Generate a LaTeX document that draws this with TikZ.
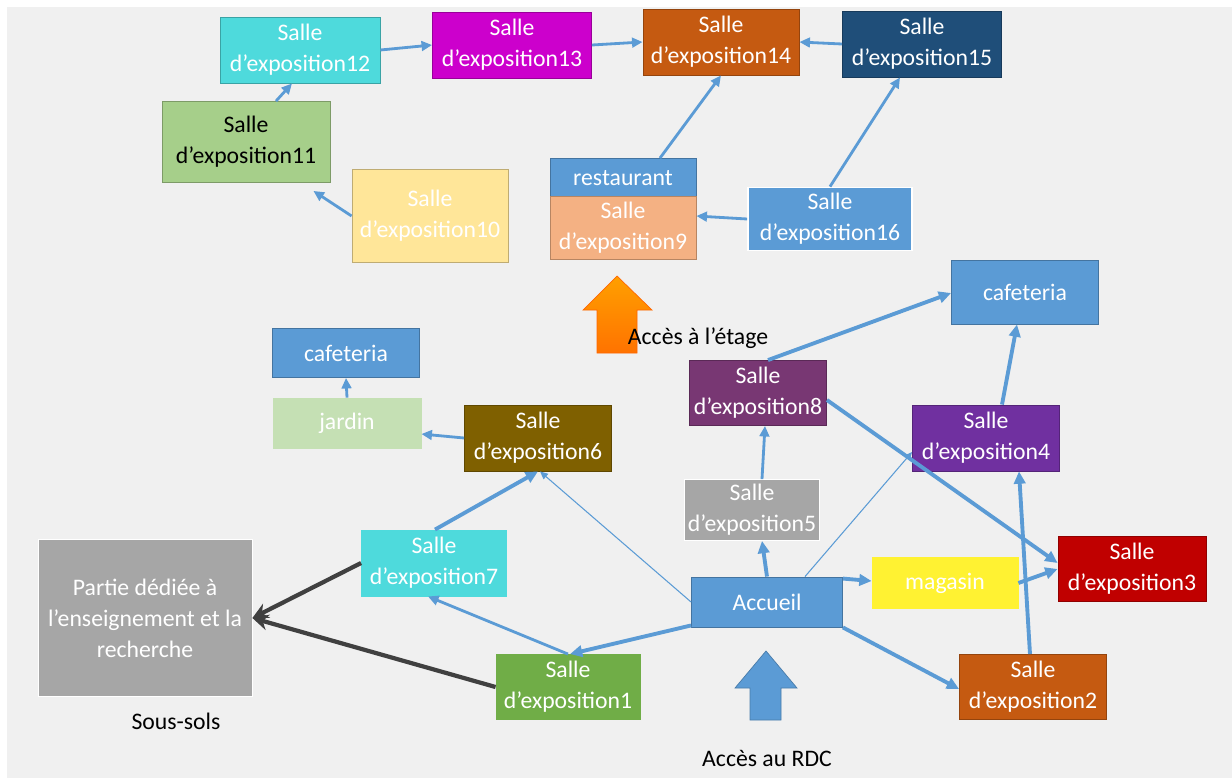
\documentclass[tikz,border=0pt]{standalone}
\usepackage{fontspec}
\setmainfont{Carlito}
\usetikzlibrary{arrows.meta,calc}

\definecolor{bggray}{RGB}{240,240,240}
\definecolor{linkblue}{RGB}{91,155,213}
\definecolor{darkarrow}{RGB}{64,64,64}
\definecolor{boxblue}{RGB}{91,155,213}
\definecolor{boxcyan}{RGB}{78,218,220}
\definecolor{boxmagenta}{RGB}{204,0,204}
\definecolor{boxorange}{RGB}{197,90,17}
\definecolor{boxnavy}{RGB}{31,78,121}
\definecolor{boxgreen}{RGB}{166,207,138}
\definecolor{boxcream}{RGB}{255,230,153}
\definecolor{boxsalmon}{RGB}{244,177,131}
\definecolor{boxplum}{RGB}{120,55,115}
\definecolor{boxpurple}{RGB}{112,48,160}
\definecolor{boxgray}{RGB}{166,166,166}
\definecolor{boxbrown}{RGB}{127,96,0}
\definecolor{boxmint}{RGB}{197,224,180}
\definecolor{boxyellow}{RGB}{255,242,50}
\definecolor{boxred}{RGB}{192,0,0}
\definecolor{boxleaf}{RGB}{112,173,71}

\tikzset{
  box/.style={draw=#1!75!black, line width=0.5pt, fill=#1, text=white, align=center,
    inner sep=0pt, font=\fontsize{13.5}{17.6}\selectfont},
  label/.style={text=black, font=\fontsize{13.5}{17.6}\selectfont},
  link/.style={draw=linkblue, line width=1.6pt, -{Triangle[length=6pt,width=5.5pt]}},
  thicklink/.style={link, line width=2.2pt, -{Triangle[length=7pt,width=6.5pt]}},
  thinlink/.style={draw=linkblue, line width=0.6pt, -{Triangle[length=4.5pt,width=4pt]}},
  darklink/.style={draw=darkarrow, line width=2.4pt, -{Stealth[length=9pt,width=9pt]}},
}

\begin{document}
\begin{tikzpicture}[x=0.02cm,y=-0.02cm]
  % page and background
  \useasboundingbox (0,0) rectangle (1232,778);
  \fill[white] (0,0) rectangle (1232,778);
  \fill[bggray] (7,7) rectangle (1232,778);

  % upper floor
  \node[box=boxcyan, minimum width=3.2cm, minimum height=1.32cm] (s12) at (300,50) {Salle\\d’exposition12};
  \node[box=boxmagenta, minimum width=3.18cm, minimum height=1.32cm] (s13) at (512,45) {Salle\\d’exposition13};
  \node[box=boxorange, minimum width=3.12cm, minimum height=1.32cm] (s14) at (721,42) {Salle\\d’exposition14};
  \node[box=boxnavy, minimum width=3.18cm, minimum height=1.32cm] (s15) at (922,44) {Salle\\d’exposition15};
  \node[box=boxgreen, text=black, minimum width=3.36cm, minimum height=1.62cm] (s11) at (246,142) {Salle\\d’exposition11};
  \node[box=boxcream, minimum width=3.12cm, minimum height=1.86cm] (s10) at (430,216) {Salle\\d’exposition10};
  \node[box=boxblue, minimum width=2.92cm, minimum height=0.78cm] (rest) at (623,178) {restaurant};
  \node[box=boxsalmon, minimum width=2.92cm, minimum height=1.26cm] (s9) at (623,228) {Salle\\d’exposition9};
  \node[box=boxblue, draw=white, line width=1pt, minimum width=3.28cm, minimum height=1.26cm] (s16) at (830,219) {Salle\\d’exposition16};

  % stairs up
  \shade[top color=orange!75!yellow, bottom color=orange!90!red, draw=orange!80!red, line width=0.4pt]
    (617,276) -- (652,310) -- (637,310) -- (637,353) -- (597,353) -- (597,310) -- (583,310) -- cycle;
  \node[label] (etage) at (698,338) {Accès à l’étage};

  % ground floor
  \node[box=boxblue, minimum width=2.94cm, minimum height=1.28cm] (cafR) at (1025,292) {cafeteria};
  \node[box=boxblue, minimum width=2.94cm, minimum height=0.98cm] (cafL) at (346,353) {cafeteria};
  \node[box=boxmint, draw=boxmint, minimum width=2.96cm, minimum height=1.0cm] (jardin) at (347,423) {jardin};
  \node[box=boxbrown, minimum width=2.94cm, minimum height=1.32cm] (s6) at (538,438) {Salle\\d’exposition6};
  \node[box=boxplum, minimum width=2.74cm, minimum height=1.3cm] (s8) at (758,393) {Salle\\d’exposition8};
  \node[box=boxpurple, minimum width=2.94cm, minimum height=1.32cm] (s4) at (986,438) {Salle\\d’exposition4};
  \node[box=boxgray, draw=white, minimum width=2.7cm, minimum height=1.22cm] (s5) at (752,510) {Salle\\d’exposition5};
  \node[box=boxcyan, draw=boxcyan, minimum width=2.9cm, minimum height=1.32cm] (s7) at (434,563) {Salle\\d’exposition7};
  \node[box=boxgray, draw=white, minimum width=4.28cm, minimum height=3.14cm] (partie) at (145,618) {Partie dédiée à\\l’enseignement et la\\recherche};
  \node[label] (soussols) at (176,721) {Sous-sols};
  \node[box=boxblue, minimum width=3.02cm, minimum height=1.0cm] (accueil) at (767,602) {Accueil};
  \node[box=boxyellow, draw=boxyellow, minimum width=2.92cm, minimum height=1.02cm] (magasin) at (945,583) {magasin};
  \node[box=boxred, minimum width=2.96cm, minimum height=1.3cm] (s3) at (1132,569) {Salle\\d’exposition3};
  \node[box=boxleaf, draw=boxleaf, minimum width=2.88cm, minimum height=1.3cm] (s1) at (568,687) {Salle\\d’exposition1};
  \node[box=boxorange, minimum width=2.94cm, minimum height=1.3cm] (s2) at (1033,687) {Salle\\d’exposition2};

  % entrance
  \fill[boxblue, draw=boxblue!80!black, line width=0.4pt]
    (766,651) -- (797,688) -- (781,688) -- (781,720) -- (750,720) -- (750,688) -- (735,688) -- cycle;
  \node[label] (rdc) at (767,758) {Accès au RDC};

  % upper floor links
  \draw[link] ($(s11.north)+(30,0)$) -- ($(s12.south)+(-8,0)$);
  \draw[link] (s12.east) -- (s13.west);
  \draw[link] (s13.east) -- (s14.west);
  \draw[link] (s15.west) -- (s14.east);
  \draw[link] ($(rest.north)+(37,0)$) -- (s14.south);
  \draw[link] (s16.north) -- ($(s15.south)+(-22,0)$);
  \draw[link] (s16.west) -- ($(s9.east)+(0,-12)$);
  \draw[link] (s10.west) -- ($(s11.south east)+(-17,8)$);

  % ground floor links
  \draw[link] (jardin.north) -- (cafL.south);
  \draw[link] (s6.west) -- ($(jardin.east)+(0,11)$);
  \draw[thicklink] ($(s7.north)+(1,0)$) -- (s6.south);
  \draw[thinlink] (accueil.west) -- ($(s6.south)+(2,0)$);
  \draw[thicklink] ($(accueil.south west)+(0,-2)$) -- ($(s1.north)+(2,0)$);
  \draw[link] (s1.north) -- ($(s7.south)+(-6,0)$);
  \draw[darklink] (s7.west) -- (partie.east);
  \draw[darklink] (s1.west) -- (partie.east);
  \draw[thicklink] (accueil.north) -- ($(s5.south)+(10,0)$);
  \draw[link] ($(s5.north)+(10,0)$) -- ($(s8.south)+(7,0)$);
  \draw[thinlink] ($(accueil.north)+(38,0)$) -- ($(s4.west)+(0,14)$);
  \draw[thicklink] ($(s4.north)+(16,0)$) -- ($(cafR.south)+(-8,0)$);
  \draw[thicklink] ($(s8.north)+(10,0)$) -- ($(cafR.west)+(0,1)$);
  \draw[thicklink] ($(s8.east)+(0,7)$) -- ($(s3.west)+(0,-6)$);
  \draw[thicklink] ($(s2.north)+(-3,0)$) -- ($(s4.south)+(33,0)$);
  \draw[thicklink] (magasin.east) -- (s3.west);
  \draw[thicklink] ($(accueil.north east)+(0,2)$) -- ($(magasin.west)+(0,-2)$);
  \draw[thicklink] (accueil.south east) -- ($(s2.west)+(0,2)$);
\end{tikzpicture}
\end{document}
